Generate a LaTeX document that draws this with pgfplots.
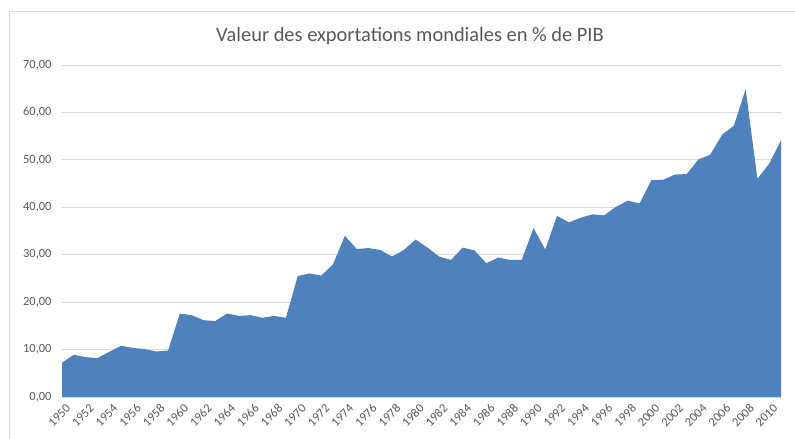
\documentclass[border=0pt]{standalone}
\usepackage{pgfplots}
\pgfplotsset{compat=1.18}
\usepackage{fontspec}
\setmainfont{Carlito}

\definecolor{serie}{HTML}{4F81BD}
\definecolor{grille}{HTML}{D9D9D9}
\definecolor{texte}{HTML}{595959}

\begin{document}
\begin{tikzpicture}[x=1bp,y=1bp]
    \useasboundingbox (0,0) rectangle (795,439);
    % cadre du graphique
    \draw[grille, line width=0.8bp] (9.5,0) -- (9.5,427.5) -- (795,427.5);

    \node[texte, font=\fontsize{20.5}{22}\selectfont] at (410,403) {Valeur des exportations mondiales en \% de PIB};

    \begin{axis}[
        at={(62bp,42bp)}, anchor=south west,
        scale only axis,
        width=719bp, height=332bp,
        xmin=1950, xmax=2011,
        ymin=0, ymax=70,
        xtick={1950,1952,...,2010},
        ytick={0,10,...,70},
        axis x line*=bottom,
        axis y line*=left,
        y axis line style={draw=none},
        x axis line style={grille, line width=0.8bp, -},
        major tick length=0pt,
        ymajorgrids,
        grid style={grille, line width=0.8bp},
        tick label style={texte, font=\fontsize{12.5}{14}\selectfont},
        /pgf/number format/assume math mode=true,
        /pgf/number format/1000 sep={},
        xticklabel style={rotate=45, anchor=east, inner sep=1bp, xshift=-1bp, yshift=-11bp},
        yticklabel={\pgfmathprintnumber[fixed, fixed zerofill, precision=2, use comma]{\tick}},
        yticklabel style={anchor=east, xshift=-7bp},
        clip=false,
    ]
    \addplot[fill=serie, draw=none] coordinates {
        (1950,7.25) (1951,8.9) (1952,8.4) (1953,8.2) (1954,9.5)
        (1955,10.8) (1956,10.35) (1957,10.1) (1958,9.6) (1959,9.8)
        (1960,17.6) (1961,17.25) (1962,16.2) (1963,16.0) (1964,17.6)
        (1965,17.1) (1966,17.25) (1967,16.7) (1968,17.1) (1969,16.7)
        (1970,25.5) (1971,26.05) (1972,25.6) (1973,28.0) (1974,34.0)
        (1975,31.2) (1976,31.4) (1977,31.0) (1978,29.6) (1979,31.0)
        (1980,33.2) (1981,31.5) (1982,29.6) (1983,28.9) (1984,31.5)
        (1985,30.9) (1986,28.2) (1987,29.4) (1988,28.9) (1989,28.9)
        (1990,35.6) (1991,31.1) (1992,38.2) (1993,36.8) (1994,37.8)
        (1995,38.5) (1996,38.3) (1997,40.1) (1998,41.4) (1999,40.8)
        (2000,45.7) (2001,45.8) (2002,46.9) (2003,47.0) (2004,50.1)
        (2005,51.1) (2006,55.3) (2007,57.2) (2008,64.9) (2009,46.0)
        (2010,49.2) (2011,54.1)
    } \closedcycle;
    \end{axis}
\end{tikzpicture}
\end{document}
